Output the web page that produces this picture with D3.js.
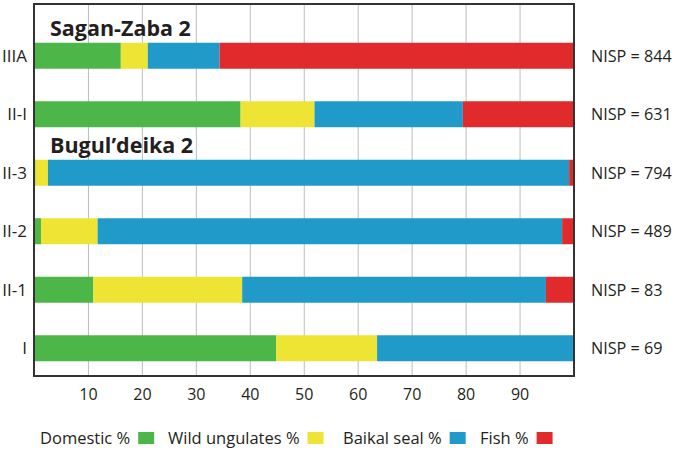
<!DOCTYPE html>
<html>
<head>
<meta charset="utf-8">
<script src="https://cdn.jsdelivr.net/npm/d3@7"></script>
<style>
	body { margin: 0; background: #fff; }
	text { font-family: "Open Sans", sans-serif; fill: #231f20; }
</style>
</head>
<body>
<script>

// layers, top to bottom
var layers = ["IIIA", "II-I", "II-3", "II-2", "II-1", "I"];
var nisp = [844, 631, 794, 489, 83, 69];

// percentages (legend order)
var domestic = [16.0, 38.2, 0.2, 1.2, 10.9, 44.8];
var wildUngulates = [5.0, 13.7, 2.3, 10.5, 27.6, 18.7];
var baikalSeal = [13.3, 27.5, 96.6, 86.1, 56.3, 36.5];
var fish = [65.7, 20.6, 0.9, 2.2, 5.2, 0.0];

var seriesNames = ["Domestic %", "Wild ungulates %", "Baikal seal %", "Fish %"];
var colors = ["#4cb748", "#ede433", "#1f9ac9", "#e02a2b"];

var xTicks = [10, 20, 30, 40, 50, 60, 70, 80, 90];

var siteLabels = [
	{name: "Sagan-Zaba 2", before: "IIIA"},
	{name: "Bugul\u2019deika 2", before: "II-3"}
];

var width = 675, height = 451;
var margin = {top: 4, right: 101, bottom: 75, left: 34};

function draw(){
	var svg = d3.select("body").append("svg")
		.attr("width", width)
		.attr("height", height);

	var x = d3.scaleLinear()
		.domain([0, 100])
		.range([margin.left + 0.5, width - margin.right]);

	var y = d3.scaleBand()
		.domain(layers)
		.range([26.5, 377.5])
		.paddingInner(0.556)
		.paddingOuter(0.278);

	//stack rows
	var rows = layers.map(function(l, i){
		return {layer: l, v0: domestic[i], v1: wildUngulates[i], v2: baikalSeal[i], v3: fish[i]};
	});
	var stack = d3.stack().keys(["v0", "v1", "v2", "v3"]);
	var stacked = stack(rows);

	//gridlines
	svg.append("g")
		.selectAll("line")
		.data(xTicks)
		.enter().append("line")
			.attr("x1", function(d){ return x(d); })
			.attr("x2", function(d){ return x(d); })
			.attr("y1", margin.top)
			.attr("y2", height - margin.bottom)
			.attr("stroke", "#bdbdbd")
			.attr("stroke-width", 1);

	//bars
	svg.append("g")
		.selectAll("g")
		.data(stacked)
		.enter().append("g")
			.attr("fill", function(d, i){ return colors[i]; })
		.selectAll("rect")
		.data(function(d){ return d; })
		.enter().append("rect")
			.attr("x", function(d){ return x(d[0]); })
			.attr("y", function(d){ return y(d.data.layer); })
			.attr("width", function(d){ return Math.max(0, x(d[1]) - x(d[0])); })
			.attr("height", y.bandwidth());

	//frame
	svg.append("rect")
		.attr("x", margin.left)
		.attr("y", margin.top)
		.attr("width", width - margin.left - margin.right)
		.attr("height", height - margin.top - margin.bottom)
		.attr("fill", "none")
		.attr("stroke", "#333")
		.attr("stroke-width", 2);

	//x axis labels
	svg.append("g")
		.selectAll("text")
		.data(xTicks)
		.enter().append("text")
			.attr("x", function(d){ return x(d); })
			.attr("y", 400)
			.attr("text-anchor", "middle")
			.style("font-size", "16px")
			.text(function(d){ return d; });

	//layer labels
	svg.append("g")
		.selectAll("text")
		.data(layers)
		.enter().append("text")
			.attr("x", 27)
			.attr("y", function(d){ return y(d) + y.bandwidth() / 2; })
			.attr("dy", "0.36em")
			.attr("text-anchor", "end")
			.style("font-size", "17px")
			.text(function(d){ return d; });

	//NISP
	svg.append("g")
		.selectAll("text")
		.data(layers)
		.enter().append("text")
			.attr("x", 591)
			.attr("y", function(d){ return y(d) + y.bandwidth() / 2; })
			.attr("dy", "0.36em")
			.style("font-size", "16.2px")
			.text(function(d, i){ return "NISP = " + nisp[i]; });

	//site headings
	svg.append("g")
		.selectAll("text")
		.data(siteLabels)
		.enter().append("text")
			.attr("x", 50)
			.attr("y", function(d){ return y(d.before) - 7; })
			.style("font-size", "21.5px")
			.style("font-weight", "bold")
			.text(function(d){ return d.name; });

	//legend
	var legendX = [40, 168, 343, 480];
	var lg = svg.append("g")
		.selectAll("g")
		.data(seriesNames)
		.enter().append("g")
			.attr("transform", function(d, i){ return "translate(" + legendX[i] + ",438)"; });

	lg.append("text")
		.attr("dy", "0.36em")
		.style("font-size", "16.5px")
		.text(function(d){ return d; });

	lg.append("rect")
		.attr("x", function(){ return this.parentNode.querySelector("text").getComputedTextLength() + 8; })
		.attr("y", -6)
		.attr("width", 16)
		.attr("height", 12)
		.attr("fill", function(d, i){ return colors[i]; });
}

draw();
</script>
</body>
</html>
